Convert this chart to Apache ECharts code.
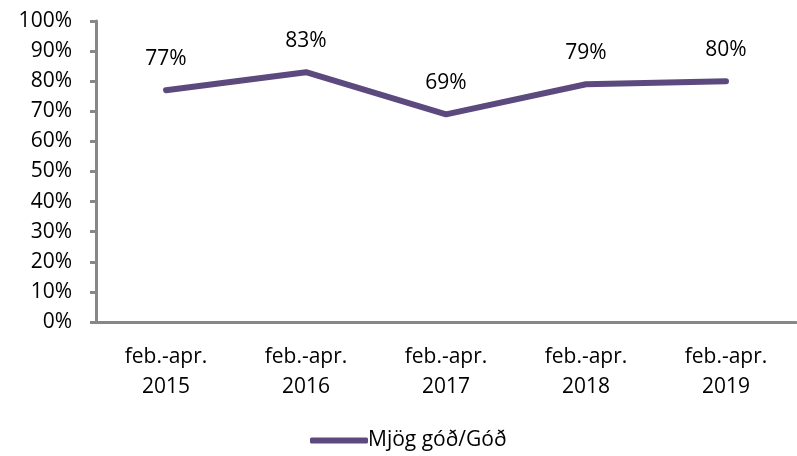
<!DOCTYPE html>
<html>
<head>
<meta charset="utf-8">
<script src="https://cdn.jsdelivr.net/npm/echarts@6/dist/echarts.min.js"></script>
<style>
  html, body { margin: 0; padding: 0; background: #fff; }
  #chart { width: 797px; height: 456px; }
</style>
</head>
<body>
<div id="chart"></div>
<script>
// gögn
var categories = ['feb.-apr.\n2015', 'feb.-apr.\n2016', 'feb.-apr.\n2017', 'feb.-apr.\n2018', 'feb.-apr.\n2019'];
var seriesName = 'Mjög góð/Góð';
var values = [77, 83, 69, 79, 80];

var axisGray = '#878787';
var lineColor = '#5c4a7e';
var fontFamily = "'Open Sans', 'Noto Sans', sans-serif";
var fs = 21;

var myChart = echarts.init(document.getElementById('chart'));
var option = {
  animation: false,
  textStyle: { fontFamily: fontFamily },
  grid: { left: 96, right: 1, top: 21, bottom: 134 },
  legend: {
    bottom: 0,
    left: 305,
    itemWidth: 58,
    itemHeight: 6,
    itemGap: 0,
    icon: 'roundRect',
    textStyle: { fontSize: fs, color: '#000', fontFamily: fontFamily, padding: [0, 0, 0, -5] },
    data: [seriesName]
  },
  xAxis: {
    type: 'category',
    data: categories,
    boundaryGap: true,
    axisLine: { lineStyle: { color: axisGray, width: 3 } },
    axisTick: { alignWithLabel: false, length: 6, lineStyle: { color: axisGray, width: 3 } },
    axisLabel: { fontSize: fs, color: '#000', lineHeight: 30, margin: 20 }
  },
  yAxis: {
    type: 'value',
    min: 0,
    max: 100,
    interval: 10,
    splitLine: { show: false },
    axisLine: { show: true, lineStyle: { color: axisGray, width: 3 } },
    axisTick: { show: true, length: 6, lineStyle: { color: axisGray, width: 3 } },
    axisLabel: { fontSize: fs, color: '#000', margin: 24, formatter: '{value}%' }
  },
  series: [{
    name: seriesName,
    type: 'line',
    data: values,
    symbol: 'circle',
    symbolSize: 1,
    showSymbol: true,
    lineStyle: { color: lineColor, width: 6, cap: 'round', join: 'round' },
    itemStyle: { color: lineColor },
    label: {
      show: true,
      position: 'top',
      distance: 20,
      fontSize: fs,
      color: '#000',
      formatter: '{c}%'
    }
  }]
};
myChart.setOption(option);
</script>
</body>
</html>
